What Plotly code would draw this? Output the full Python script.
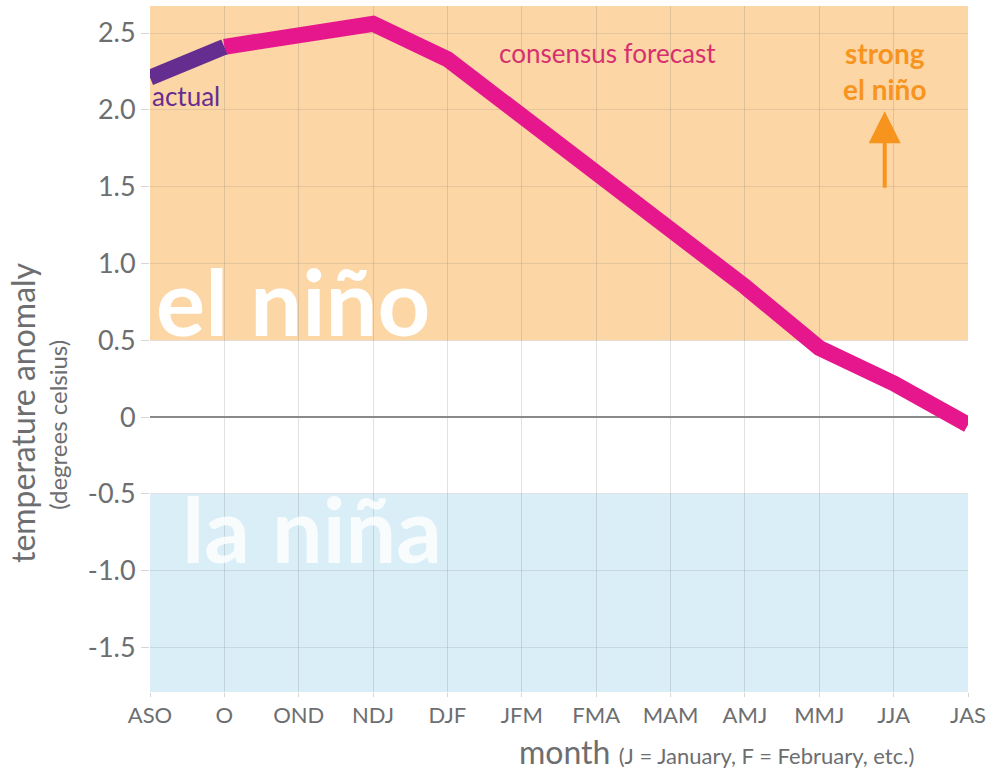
import plotly.graph_objects as go

# ---- data ----
months = ["ASO", "O", "OND", "NDJ", "DJF", "JFM", "FMA", "MAM", "AMJ", "MMJ", "JJA", "JAS"]
actual_months = ["ASO", "O"]
actual_values = [2.21, 2.41]
forecast_months = ["O", "OND", "NDJ", "DJF", "JFM", "FMA", "MAM", "AMJ", "MMJ", "JJA", "JAS"]
forecast_values = [2.41, 2.49, 2.56, 2.33, 1.96, 1.60, 1.20, 0.85, 0.45, 0.22, -0.05]
y_tickvals = [-1.5, -1.0, -0.5, 0, 0.5, 1.0, 1.5, 2.0, 2.5]
y_ticktext = ["-1.5", "-1.0", "-0.5", "0", "0.5", "1.0", "1.5", "2.0", "2.5"]
el_nino_threshold = 0.5
la_nina_threshold = -0.5

Y_MIN, Y_MAX = -1.79, 2.676
FONT = "Lato"
GRAY = "#6d6e70"
ORANGE_BG = "#fcd6a5"
BLUE_BG = "#d9eef6"
MAGENTA = "#e6168c"
PURPLE = "#662d91"
ORANGE = "#f7941e"

fig = go.Figure()

fig.add_trace(go.Scatter(
    x=forecast_months, y=forecast_values, mode="lines",
    line=dict(color=MAGENTA, width=16), cliponaxis=False,
    hoverinfo="skip", showlegend=False))
fig.add_trace(go.Scatter(
    x=actual_months, y=actual_values, mode="lines",
    line=dict(color=PURPLE, width=16), cliponaxis=False,
    hoverinfo="skip", showlegend=False))

shapes = [
    dict(type="rect", xref="paper", yref="y", x0=0, x1=1, y0=el_nino_threshold, y1=Y_MAX,
         fillcolor=ORANGE_BG, line=dict(width=0), layer="below"),
    dict(type="rect", xref="paper", yref="y", x0=0, x1=1, y0=Y_MIN, y1=la_nina_threshold,
         fillcolor=BLUE_BG, line=dict(width=0), layer="below"),
]

annotations = [
    dict(text="<b>el niño</b>", x=0.06, y=0.76, xref="x", yref="y",
         xanchor="left", yanchor="middle", showarrow=False,
         font=dict(family=FONT, size=92, color="white")),
    dict(text="<b>la niña</b>", x=0.40, y=-0.72, xref="x", yref="y",
         xanchor="left", yanchor="middle", showarrow=False,
         font=dict(family=FONT, size=90, color="rgba(255,255,255,0.8)")),
    dict(text="consensus forecast", x=4.67, y=2.37, xref="x", yref="y",
         xanchor="left", yanchor="middle", showarrow=False,
         font=dict(family=FONT, size=26, color="#d6306f")),
    dict(text="actual", x=0.0, y=2.09, xref="x", yref="y",
         xanchor="left", yanchor="middle", showarrow=False,
         font=dict(family=FONT, size=26, color=PURPLE)),
    dict(text="<b>strong<br>el niño</b>", x=9.88, y=2.25, xref="x", yref="y",
         xanchor="center", yanchor="middle", showarrow=False, align="center",
         font=dict(family=FONT, size=28, color=ORANGE)),
    dict(text="", x=9.88, y=1.99, xref="x", yref="y", showarrow=True,
         ax=0, ay=78, arrowhead=2, arrowsize=1.6, arrowwidth=4,
         arrowcolor=ORANGE, standoff=0),
    dict(text="temperature anomaly", x=-0.155, y=0.407, xref="paper", yref="paper",
         xanchor="center", yanchor="middle", textangle=-90, showarrow=False,
         font=dict(family=FONT, size=32, color=GRAY)),
    dict(text="(degrees celsius)", x=-0.113, y=0.389, xref="paper", yref="paper",
         xanchor="center", yanchor="middle", textangle=-90, showarrow=False,
         font=dict(family=FONT, size=24, color=GRAY)),
    dict(text="month <span style='font-size:22px'>(J = January, F = February, etc.)</span>",
         x=0.449, y=-0.087, xref="paper", yref="paper",
         xanchor="left", yanchor="middle", showarrow=False,
         font=dict(family=FONT, size=32, color=GRAY)),
]

fig.update_layout(
    width=1002, height=772,
    margin=dict(l=150, r=34, t=6, b=80),
    paper_bgcolor="white", plot_bgcolor="white",
    shapes=shapes, annotations=annotations,
    showlegend=False,
    xaxis=dict(
        type="category", categoryorder="array", categoryarray=months,
        range=[0, len(months) - 1],
        showgrid=True, gridcolor="rgba(120,120,120,0.22)", gridwidth=1,
        ticks="outside", ticklen=4, tickcolor="rgba(120,120,120,0.3)",
        tickfont=dict(family=FONT, size=22, color=GRAY),
        showline=False, zeroline=False, fixedrange=True,
    ),
    yaxis=dict(
        range=[Y_MIN, Y_MAX],
        tickvals=y_tickvals, ticktext=y_ticktext,
        showgrid=True, gridcolor="rgba(120,120,120,0.18)", gridwidth=1,
        ticks="outside", ticklen=8, tickcolor="rgba(120,120,120,0.3)",
        tickfont=dict(family=FONT, size=27, color=GRAY),
        zeroline=True, zerolinecolor="#8a8a8a", zerolinewidth=2,
        showline=False, fixedrange=True,
    ),
)

fig.write_html("out.html",
               config={"displayModeBar": False},
               post_script="document.body.style.margin='0px';document.body.style.overflow='hidden';")
